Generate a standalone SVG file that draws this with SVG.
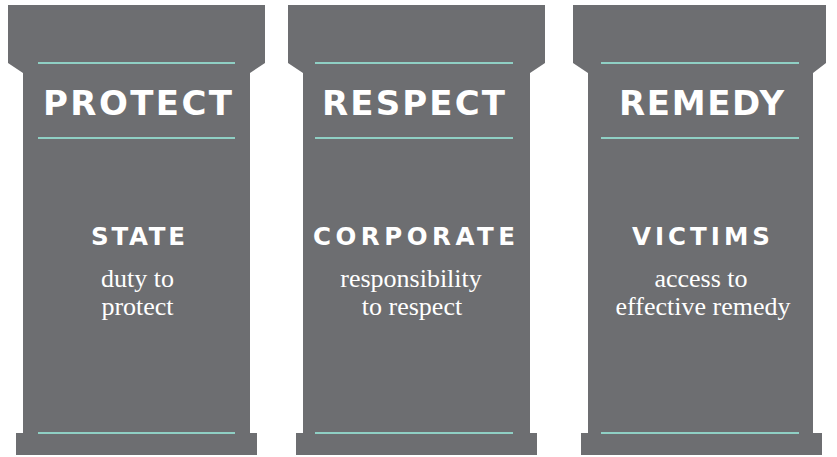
<svg xmlns="http://www.w3.org/2000/svg" width="837" height="457" viewBox="0 0 837 457">
<style>
.pillar{fill:#6d6e71}
.rule{stroke:#8fcfc4;stroke-width:2.2;fill:none}
.head{font-family:"DejaVu Sans","Liberation Sans",sans-serif;font-weight:700;font-size:34px;fill:#ffffff;text-anchor:middle}
.sub{font-family:"DejaVu Sans","Liberation Sans",sans-serif;font-weight:700;font-size:24.5px;fill:#ffffff;text-anchor:middle}
.desc{font-family:"Liberation Serif","Times New Roman",serif;font-size:26px;fill:#ffffff;text-anchor:middle}
</style>
<rect width="837" height="457" fill="#ffffff"/>
<g id="protect">
<path class="pillar" d="M8,5 H265 V63 L250,73 V433 H257 V455 H16 V433 H23 V73 L8,63 Z"/>
<line class="rule" x1="38" y1="63" x2="235" y2="63"/>
<line class="rule" x1="38" y1="138" x2="235" y2="138"/>
<line class="rule" x1="38" y1="433" x2="235" y2="433"/>
<text class="head" x="137.5" y="115" textLength="189" lengthAdjust="spacing">PROTECT</text>
<text class="sub" x="138" y="245" textLength="94" lengthAdjust="spacing">STATE</text>
<text class="desc" x="137.5" y="287">duty to</text>
<text class="desc" x="137.5" y="315">protect</text>
</g>
<g id="respect">
<path class="pillar" d="M288,5 H545 V63 L530,73 V433 H537 V455 H296 V433 H303 V73 L288,63 Z"/>
<line class="rule" x1="315" y1="63" x2="513" y2="63"/>
<line class="rule" x1="315" y1="138" x2="513" y2="138"/>
<line class="rule" x1="315" y1="433" x2="513" y2="433"/>
<text class="head" x="413.5" y="115" textLength="183" lengthAdjust="spacing">RESPECT</text>
<text class="sub" x="414" y="245" textLength="202" lengthAdjust="spacing">CORPORATE</text>
<text class="desc" x="411" y="287">responsibility</text>
<text class="desc" x="412" y="315">to respect</text>
</g>
<g id="remedy">
<path class="pillar" d="M573,5 H826 V63 L813,73 V433 H822 V455 H581 V433 H588 V73 L573,63 Z"/>
<line class="rule" x1="601" y1="63" x2="799" y2="63"/>
<line class="rule" x1="601" y1="138" x2="799" y2="138"/>
<line class="rule" x1="601" y1="433" x2="799" y2="433"/>
<text class="head" x="701.5" y="115" textLength="165" lengthAdjust="spacing">REMEDY</text>
<text class="sub" x="701" y="245" textLength="138" lengthAdjust="spacing">VICTIMS</text>
<text class="desc" x="701" y="287">access to</text>
<text class="desc" x="703" y="315">effective remedy</text>
</g>
<g id="connectors"/>
</svg>
